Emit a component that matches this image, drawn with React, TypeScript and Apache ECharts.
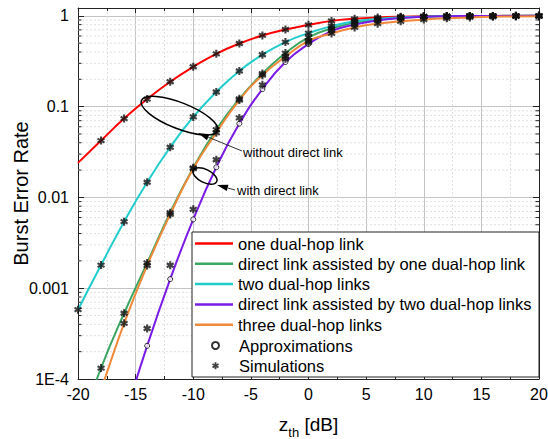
import React, { useEffect, useRef } from 'react';
import * as echarts from 'echarts';

// x positions (dB) where values were read
const zth = [-20, -18, -16, -14, -12, -10, -8, -6, -4, -2, 0, 2, 4, 6, 8, 10, 12, 14, 16, 18, 20];

// curves
const oneDualHop = [0.024, 0.0423, 0.0738, 0.121, 0.188, 0.275, 0.382, 0.496, 0.608, 0.707, 0.796, 0.88, 0.927, 0.958, 0.978, 0.99, 0.995, 0.998, 0.999, 1.0, 1.0];
const directPlusOne = [2.6e-5, 1.32e-4, 5.3e-4, 0.0019, 0.0068, 0.0212, 0.0559, 0.122, 0.231, 0.389, 0.58, 0.726, 0.84, 0.91, 0.955, 0.978, 0.99, 0.996, 0.998, 0.999, 1.0];
const twoDualHop = [0.00058, 0.0018, 0.0054, 0.0147, 0.0357, 0.077, 0.145, 0.247, 0.373, 0.514, 0.645, 0.77, 0.87, 0.925, 0.962, 0.982, 0.992, 0.997, 0.999, 1.0, 1.0];
const directPlusTwo = [3e-7, 4e-6, 3.5e-5, 2.32e-4, 1.26e-3, 5.73e-3, 0.0215, 0.065, 0.156, 0.31, 0.489, 0.68, 0.8, 0.89, 0.945, 0.975, 0.99, 0.996, 0.998, 0.999, 1.0];
const threeDualHop = [1.4e-5, 7.6e-5, 4.1e-4, 0.00178, 0.0065, 0.0208, 0.0515, 0.118, 0.222, 0.355, 0.53, 0.64, 0.745, 0.82, 0.87, 0.91, 0.94, 0.96, 0.975, 0.985, 0.99];
// simulations for the "direct link assisted by two dual-hop links" case
const directPlusTwoSim = [1e-6, 8e-6, 5.5e-5, 3.6e-4, 1.79e-3, 7.4e-3, 0.026, 0.075, 0.174, 0.337, 0.51, 0.69, 0.81, 0.895, 0.948, 0.976, 0.99, 0.996, 0.998, 0.999, 1.0];

const lineNames = [
  'one dual-hop link',
  'direct link assisted by one dual-hop link',
  'two dual-hop links',
  'direct link assisted by two dual-hop links',
  'three dual-hop links',
];
const lineValues = [oneDualHop, directPlusOne, twoDualHop, directPlusTwo, threeDualHop];
const lineColors = ['#ff0000', '#3aa661', '#22cccc', '#7a1ae6', '#f08a3a'];

const yTickLabels = ['1E-4', '0.001', '0.01', '0.1', '1'];
const xMin = -20;
const xMax = 20;
const yMin = 1e-4;
const yMax = 1.22;
const minorMultipliers = [2, 3, 4, 5, 6, 7, 8, 9];
const minorDecades = [1e-4, 1e-3, 1e-2, 1e-1];

const STAR =
  'path://M3.7,0L6.3,0L6.3,10L3.7,10Z M8.68,8.626L0.02,3.626L1.32,1.374L9.98,6.374Z M9.98,3.626L1.32,8.626L0.02,6.374L8.68,1.374Z';

function arrow(x1: number, y1: number, x2: number, y2: number) {
  const len = 11;
  const hw = 3.2;
  const dx = x2 - x1;
  const dy = y2 - y1;
  const L = Math.hypot(dx, dy);
  const ux = dx / L;
  const uy = dy / L;
  const bx = x2 - ux * len;
  const by = y2 - uy * len;
  return [
    { type: 'line', z: 30, shape: { x1, y1, x2: bx, y2: by }, style: { stroke: '#333', lineWidth: 1 } },
    {
      type: 'polygon',
      z: 30,
      shape: { points: [[x2, y2], [bx - uy * hw, by + ux * hw], [bx + uy * hw, by - ux * hw]] },
      style: { fill: '#000' },
    },
  ];
}

export default function App() {
  const ref = useRef<HTMLDivElement>(null);
  useEffect(() => {
    if (!ref.current) return;
    const chart = echarts.init(ref.current, null, { renderer: 'svg' });
    const font = 'Liberation Sans, Arial, sans-serif';
    const minorVals: number[] = [];
    minorDecades.forEach((d) => minorMultipliers.forEach((m) => minorVals.push(m * d)));

    const axisLineStyle = { color: '#222', width: 1 };
    const yLabelFmt = (v: number) => {
      const l = Math.log10(v);
      const e = Math.round(l);
      if (Math.abs(l - e) > 1e-6) return '';
      return yTickLabels[e + 4] ?? '';
    };

    const simData: number[][] = [];
    zth.forEach((x, i) => {
      if (i >= 1) simData.push([x, oneDualHop[i]]);
      simData.push([x, directPlusOne[i]]);
      simData.push([x, twoDualHop[i]]);
      simData.push([x, threeDualHop[i]]);
      simData.push([x, directPlusTwoSim[i]]);
    });

    const option: any = {
      animation: false,
      textStyle: { fontFamily: font },
      grid: { left: 78, right: 9, top: 8, bottom: 60, containLabel: false, outerBoundsMode: 'none' },
      xAxis: [
        {
          type: 'value',
          min: xMin,
          max: xMax,
          interval: 5,
          position: 'bottom',
          name: '{z|z}{s|th}{z| [dB]}',
          nameLocation: 'middle',
          nameGap: 36,
          nameMoveOverlap: false,
          nameTextStyle: {
            rich: {
              z: { fontSize: 19, color: '#000', fontFamily: font, verticalAlign: 'bottom', padding: [0, 0, 5, 0] },
              s: { fontSize: 13, color: '#000', fontFamily: font, verticalAlign: 'bottom' },
            },
          },
          axisLine: { show: true, onZero: false, lineStyle: axisLineStyle },
          axisTick: { show: true, inside: true, length: 5, lineStyle: axisLineStyle },
          minorTick: { show: true, splitNumber: 2, length: 3, lineStyle: axisLineStyle },
          axisLabel: { fontSize: 16, color: '#000', margin: 7, fontFamily: font },
          splitLine: { show: true, lineStyle: { color: '#c4c4c4', width: 1 } },
          minorSplitLine: { show: true, lineStyle: { color: '#e0e0e0', width: 1, type: [2, 2] } },
        },
        {
          type: 'value',
          min: xMin,
          max: xMax,
          interval: 5,
          position: 'top',
          axisLine: { show: true, onZero: false, lineStyle: axisLineStyle },
          axisTick: { show: true, inside: true, length: 5, lineStyle: axisLineStyle },
          minorTick: { show: true, splitNumber: 2, length: 3, lineStyle: axisLineStyle },
          axisLabel: { show: false },
          splitLine: { show: false },
        },
      ],
      yAxis: [
        {
          type: 'log',
          logBase: 10,
          min: yMin,
          max: yMax,
          position: 'left',
          name: 'Burst Error Rate',
          nameLocation: 'middle',
          nameGap: 47,
          nameMoveOverlap: false,
          nameTextStyle: { fontSize: 20, color: '#000', fontFamily: font },
          axisLine: { show: true, onZero: false, lineStyle: axisLineStyle },
          axisTick: { show: true, inside: true, length: 6, lineStyle: axisLineStyle },
          minorTick: { show: false },
          axisLabel: { fontSize: 16, color: '#000', margin: 9, fontFamily: font, formatter: yLabelFmt },
          splitLine: { show: true, lineStyle: { color: '#c4c4c4', width: 1 } },
        },
        {
          type: 'log',
          logBase: 10,
          min: yMin,
          max: yMax,
          position: 'right',
          axisLine: { show: true, onZero: false, lineStyle: axisLineStyle },
          axisTick: { show: true, inside: true, length: 6, lineStyle: axisLineStyle },
          minorTick: { show: false },
          axisLabel: { show: false },
          splitLine: { show: false },
        },
      ],
      legend: [
        {
          orient: 'vertical',
          left: 195,
          top: 235,
          padding: 0,
          itemGap: 3.3,
          itemWidth: 38,
          itemHeight: 2.5,
          icon: 'rect',
          selectedMode: false,
          z: 20,
          data: lineNames,
          textStyle: { fontSize: 16.5, color: '#000', fontFamily: font },
        },
        {
          orient: 'vertical',
          left: 211,
          top: 337,
          padding: 0,
          itemGap: 3.3,
          itemWidth: 7,
          itemHeight: 7,
          selectedMode: false,
          z: 20,
          data: ['Approximations', 'Simulations'],
          textStyle: { fontSize: 16.5, color: '#000', fontFamily: font, padding: [0, 0, 0, 15] },
        },
      ],
      graphic: [
        {
          type: 'rect',
          z: 10,
          shape: { x: 192, y: 232, width: 347, height: 145 },
          style: { fill: '#fff', stroke: '#222', lineWidth: 1 },
        },
        {
          type: 'ellipse',
          z: 30,
          x: 179.5,
          y: 115.7,
          rotation: -0.377,
          shape: { cx: 0, cy: 0, rx: 41, ry: 13 },
          style: { fill: 'none', stroke: '#000', lineWidth: 1.5 },
        },
        {
          type: 'ellipse',
          z: 30,
          x: 205,
          y: 176,
          rotation: -0.46,
          shape: { cx: 0, cy: 0, rx: 13, ry: 6.5 },
          style: { fill: 'none', stroke: '#000', lineWidth: 1.5 },
        },
        ...arrow(242, 151, 198, 133),
        ...arrow(235, 190, 217, 185),
        {
          type: 'text',
          z: 30,
          x: 243,
          y: 152,
          style: { text: 'without direct link', fontSize: 13, fontFamily: font, fill: '#000', verticalAlign: 'middle' },
        },
        {
          type: 'text',
          z: 30,
          x: 237,
          y: 190,
          style: { text: 'with direct link', fontSize: 13, fontFamily: font, fill: '#000', verticalAlign: 'middle' },
        },
      ],
      series: [
        {
          type: 'custom',
          name: 'minorGrid',
          xAxisIndex: 0,
          yAxisIndex: 0,
          z: 1,
          silent: true,
          data: minorVals.map((v) => [xMin, v]),
          renderItem: (_params: any, api: any) => {
            const v = api.value(1);
            const p1 = api.coord([xMin, v]);
            const p2 = api.coord([xMax, v]);
            return {
              type: 'group',
              children: [
                {
                  type: 'line',
                  shape: { x1: p1[0], y1: p1[1], x2: p2[0], y2: p2[1] },
                  style: { stroke: '#e0e0e0', lineWidth: 1, lineDash: [2, 2] },
                },
                {
                  type: 'line',
                  shape: { x1: p1[0], y1: p1[1], x2: p1[0] + 3.5, y2: p1[1] },
                  style: { stroke: '#222', lineWidth: 1 },
                },
                {
                  type: 'line',
                  shape: { x1: p2[0] - 3.5, y1: p2[1], x2: p2[0], y2: p2[1] },
                  style: { stroke: '#222', lineWidth: 1 },
                },
              ],
            };
          },
        },
        ...lineNames.map((name, k) => ({
          type: 'line',
          name,
          z: 3,
          color: lineColors[k],
          showSymbol: false,
          smooth: true,
          clip: true,
          lineStyle: { width: 2, color: lineColors[k] },
          itemStyle: { color: lineColors[k] },
          data: zth.map((x, i) => [x, lineValues[k][i]]),
        })),
        {
          type: 'scatter',
          name: 'Approximations',
          z: 4,
          symbol: 'circle',
          symbolSize: 5,
          clip: true,
          itemStyle: { color: '#fff', borderColor: '#000', borderWidth: 1 },
          data: zth.map((x, i) => [x, directPlusTwo[i]]),
        },
        {
          type: 'scatter',
          name: 'Simulations',
          z: 5,
          symbol: STAR,
          symbolSize: 8,
          clip: true,
          itemStyle: { color: '#111' },
          data: simData,
        },
      ],
    };
    chart.setOption(option);
    return () => chart.dispose();
  }, []);
  return (
    <div
      ref={ref}
      style={{ position: 'fixed', left: 0, top: 0, width: 548, height: 439, background: '#fff' }}
    />
  );
}
